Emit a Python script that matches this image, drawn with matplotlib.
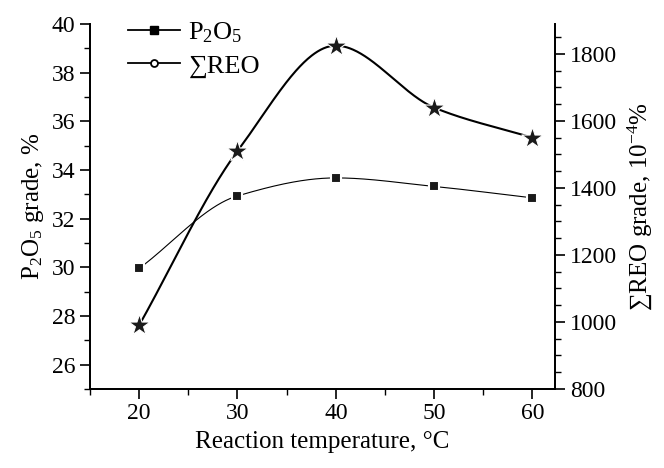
import numpy as np
import matplotlib
matplotlib.use("Agg")
import matplotlib.pyplot as plt
from matplotlib.lines import Line2D
from matplotlib.ticker import MultipleLocator

plt.rcParams['font.family'] = ['Liberation Serif', 'DejaVu Serif']
plt.rcParams['mathtext.fontset'] = 'custom'
plt.rcParams['mathtext.rm'] = 'Liberation Serif'
plt.rcParams['mathtext.it'] = 'Liberation Serif:italic'

# data
temps = [20, 30, 40, 50, 60]
p2o5 = [29.95, 32.93, 33.67, 33.32, 32.85]
reo = [990, 1510, 1825, 1640, 1550]


def smooth(x, y, xn):
    # shape preserving cubic, only used to draw the connecting curve
    x = np.asarray(x, float)
    y = np.asarray(y, float)
    h = np.diff(x)
    d = np.diff(y) / h
    m = np.zeros_like(y)
    for k in range(1, len(x) - 1):
        if d[k - 1] * d[k] > 0:
            w1 = 2 * h[k] + h[k - 1]
            w2 = h[k] + 2 * h[k - 1]
            m[k] = (w1 + w2) / (w1 / d[k - 1] + w2 / d[k])
    m[0] = d[0]
    m[-1] = d[-1]
    i = np.clip(np.searchsorted(x, xn) - 1, 0, len(x) - 2)
    t = (xn - x[i]) / h[i]
    h00 = 2 * t**3 - 3 * t**2 + 1
    h10 = t**3 - 2 * t**2 + t
    h01 = -2 * t**3 + 3 * t**2
    h11 = t**3 - t**2
    return h00 * y[i] + h10 * h[i] * m[i] + h01 * y[i + 1] + h11 * h[i] * m[i + 1]


fig = plt.figure(figsize=(6.64, 4.68), dpi=100)
ax = fig.add_axes([0.1355, 0.169, 0.7005, 0.78])
ax2 = ax.twinx()

xs = np.linspace(20, 60, 400)
ax.plot(xs, smooth(temps, p2o5, xs), color='black', lw=0.8, zorder=2)
ax.scatter(temps, p2o5, marker='s', s=60, color='#1a1a1a', edgecolors='white', linewidths=1.5, zorder=3)

ax2.plot(xs, smooth(temps, reo, xs), color='black', lw=1.5, zorder=2)
ax2.scatter(temps, reo, marker='*', s=260, color='#1a1a1a', edgecolors='white', linewidths=0.8, zorder=3)

ax.set_xlim(15, 62.3)
ax.set_ylim(25, 40)
ax2.set_ylim(800, 1890)

ax.set_xticks([20, 30, 40, 50, 60])
ax.xaxis.set_minor_locator(MultipleLocator(5))
ax.set_yticks([26, 28, 30, 32, 34, 36, 38, 40])
ax.yaxis.set_minor_locator(MultipleLocator(1))
ax2.set_yticks([800, 1000, 1200, 1400, 1600, 1800])
ax2.yaxis.set_minor_locator(MultipleLocator(50))

for a in (ax, ax2):
    a.spines['top'].set_visible(False)
    for s in a.spines.values():
        s.set_linewidth(1.3)
    a.tick_params(which='major', length=7, width=1.2, labelsize=17, direction='out')
    a.tick_params(which='minor', length=4, width=1.0, direction='out')

ax.set_xlabel('Reaction temperature, °C', fontsize=18, labelpad=5)
ax.set_ylabel('P$_2$O$_5$ grade, %', fontsize=18, labelpad=4)
ax2.set_ylabel('∑REO grade, 10$^{-4}$%', fontsize=18, labelpad=6)

handles = [
    Line2D([], [], color='black', lw=1.3, marker='s', markersize=6, markerfacecolor='black'),
    Line2D([], [], color='black', lw=1.3, marker='o', markersize=5, markerfacecolor='white', markeredgewidth=1.3),
]
ax.legend(handles, ['P$_2$O$_5$', '∑REO'], loc='upper left', bbox_to_anchor=(0.03, 1.075),
          frameon=False, fontsize=19, handlelength=2.0, handletextpad=0.3, labelspacing=0.35)

fig.savefig('out.png', dpi=100)
